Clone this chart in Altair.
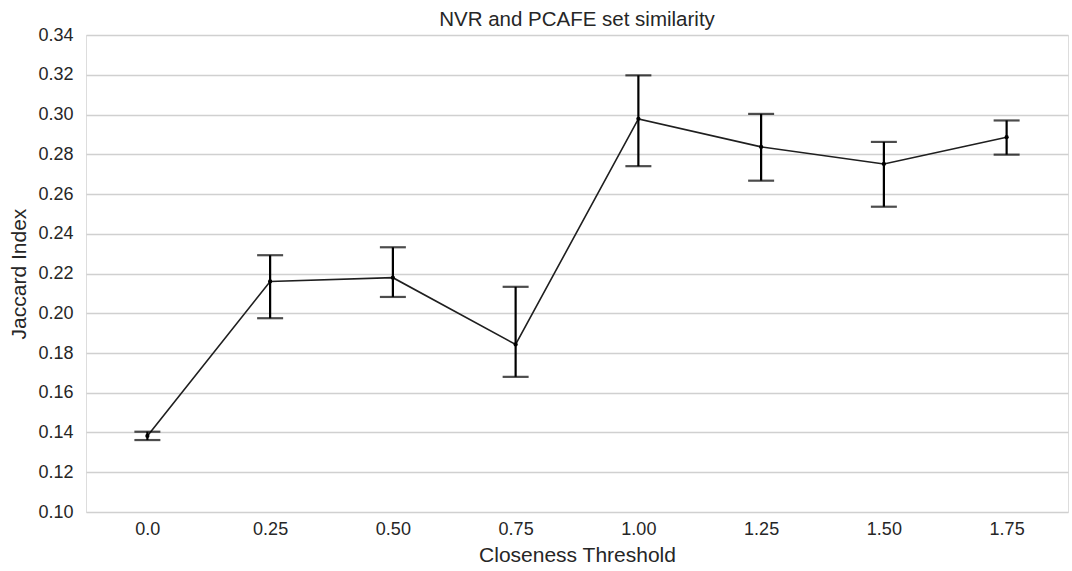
import altair as alt
import pandas as pd

thresholds = ["0.0", "0.25", "0.50", "0.75", "1.00", "1.25", "1.50", "1.75"]
jaccard_mean = [0.1383, 0.2160, 0.2179, 0.1843, 0.2978, 0.2837, 0.2751, 0.2886]
ci_low = [0.1362, 0.1975, 0.2082, 0.1680, 0.2740, 0.2667, 0.2536, 0.2798]
ci_high = [0.1404, 0.2292, 0.2332, 0.2133, 0.3197, 0.3003, 0.2862, 0.2970]
y_ticks = [0.10, 0.12, 0.14, 0.16, 0.18, 0.20, 0.22, 0.24, 0.26, 0.28, 0.30, 0.32, 0.34]

df = pd.DataFrame({"t": thresholds, "m": jaccard_mean, "lo": ci_low, "hi": ci_high})

FONT = "Liberation Sans"
TXT = "#262626"
GRID = "#d0d0d0"

x_axis = alt.Axis(
    title="Closeness Threshold",
    labelAngle=0,
    labelFontSize=18,
    labelFont=FONT,
    labelColor=TXT,
    labelPadding=8,
    ticks=False,
    domain=False,
    grid=False,
    titleFontSize=21,
    titleFont=FONT,
    titleColor=TXT,
    titleFontWeight="normal",
    titleBaseline="alphabetic",
    titleY=49.5,
)
x_scale = alt.Scale(type="point", padding=0.5)

y_scale = alt.Scale(domain=[0.10, 0.34], nice=False, zero=False)
y_axis = alt.Axis(
    title="Jaccard Index",
    values=y_ticks,
    format=".2f",
    labelOverlap=False,
    labelFontSize=18,
    labelFont=FONT,
    labelColor=TXT,
    labelPadding=13,
    ticks=False,
    domain=False,
    grid=True,
    gridColor=GRID,
    gridWidth=1.3,
    titleFontSize=21,
    titleFont=FONT,
    titleColor=TXT,
    titleFontWeight="normal",
    titleAngle=-90,
    titleBaseline="alphabetic",
    titleAlign="center",
    titleX=-61,
    titleY=238.5,
)


def X():
    return alt.X("t:N", sort=thresholds, scale=x_scale, axis=x_axis)


def Y(field):
    return alt.Y(field, scale=y_scale, axis=y_axis)


base = alt.Chart(df)

line = base.mark_line(color="#1f1f1f", strokeWidth=1.6).encode(x=X(), y=Y("m:Q"))

bars = base.mark_rule(color="black", strokeWidth=2.2).encode(x=X(), y=Y("lo:Q"), y2="hi:Q")

caps_lo = base.mark_tick(color="black", size=26, thickness=2.2, orient="horizontal").encode(
    x=X(), y=Y("lo:Q")
)
caps_hi = base.mark_tick(color="black", size=26, thickness=2.2, orient="horizontal").encode(
    x=X(), y=Y("hi:Q")
)

pts = base.mark_point(filled=True, color="black", size=18, opacity=1).encode(x=X(), y=Y("m:Q"))

chart = (
    alt.layer(line, bars, caps_lo, caps_hi, pts)
    .properties(
        width=982,
        height=477,
        padding={"left": 86, "top": 35, "right": 4, "bottom": 59},
        autosize=alt.AutoSizeParams(type="none"),
        title=alt.TitleParams(
            "NVR and PCAFE set similarity",
            font=FONT,
            fontSize=20.5,
            fontWeight="normal",
            color=TXT,
            anchor="middle",
            frame="group",
            baseline="bottom",
            offset=3,
            dy=27,
        ),
    )
    .configure_view(stroke=GRID, strokeWidth=1.5)
    .configure(background="white")
)

chart.save("out.html", embed_options={"renderer": "svg", "actions": False})
